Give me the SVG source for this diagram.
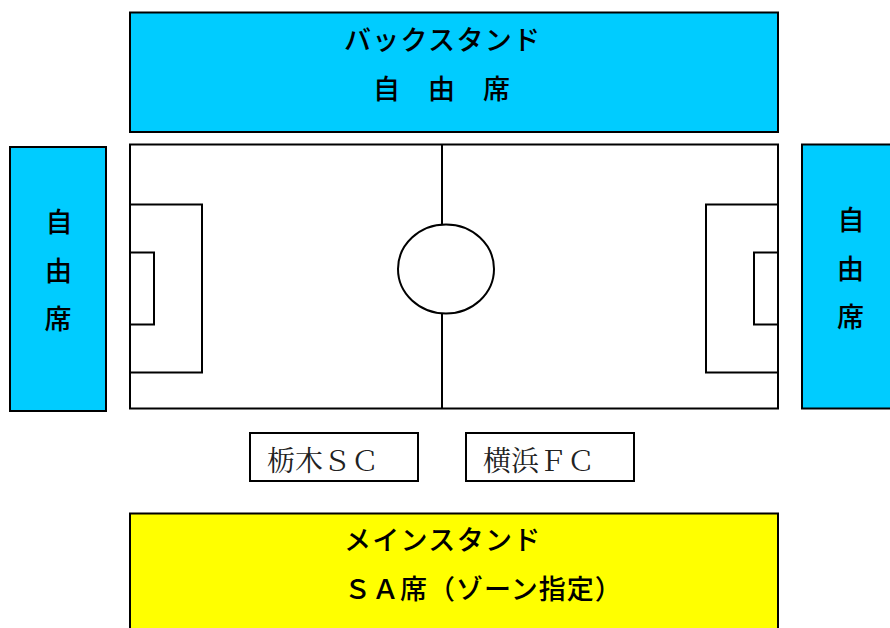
<svg xmlns="http://www.w3.org/2000/svg" width="890" height="628" viewBox="0 0 890 628">
<style>
.l{stroke:#000;stroke-width:2}
.w{fill:#fff}.b{fill:#00ccff}.y{fill:#ffff00}
.n{fill:none}
text{font-family:"Noto Sans CJK JP","Liberation Sans",sans-serif;font-size:27px;font-weight:500;fill:#000}
.m{font-family:"Noto Serif CJK JP","Liberation Serif","Noto Sans CJK JP",serif;font-size:28px;font-weight:400;fill:#222}
</style>
<rect width="890" height="628" fill="#fff"/>
<g id="back-stand"><rect class="l b" x="130" y="12.5" width="648" height="119.5"/>
<text x="344" y="50" letter-spacing="1.3">バックスタンド</text>
<text x="373" y="99">自</text><text x="428" y="99">由</text><text x="483" y="99">席</text></g>
<g id="left-stand"><rect class="l b" x="10" y="147" width="96" height="264"/>
<text x="45.500" y="232">自</text><text x="45" y="280.500">由</text><text x="44.500" y="328.500">席</text></g>
<g id="right-stand"><rect class="l b" x="802" y="144.5" width="96" height="264"/>
<text x="837.500" y="230">自</text><text x="837" y="278.500">由</text><text x="837" y="326.500">席</text></g>
<g id="field">
<rect class="l w" x="130" y="144.5" width="648" height="264"/>
<path class="l n" d="M442 145V408M130 204.5H202V372.5H130M130 252.5H154V324.5H130M778 204.5H706V372.5H778M778 252.5H754V324.5H778"/>
<ellipse class="l w" cx="446" cy="269" rx="48" ry="44.5"/>
</g>
<g id="team-home"><rect class="l w" x="250" y="433" width="168" height="48"/>
<text class="m" x="267" y="470.500">栃木ＳＣ</text></g>
<g id="team-away"><rect class="l w" x="466" y="433" width="168" height="48"/>
<text class="m" x="483" y="470.500">横浜ＦＣ</text></g>
<g id="main-stand"><rect class="l y" x="130" y="513.500" width="648" height="120"/>
<text x="344" y="550" letter-spacing="1.3">メインスタンド</text>
<text x="344" y="599" letter-spacing="1">ＳＡ席（ゾーン指定）</text></g>
<g id="connectors"></g>
</svg>
